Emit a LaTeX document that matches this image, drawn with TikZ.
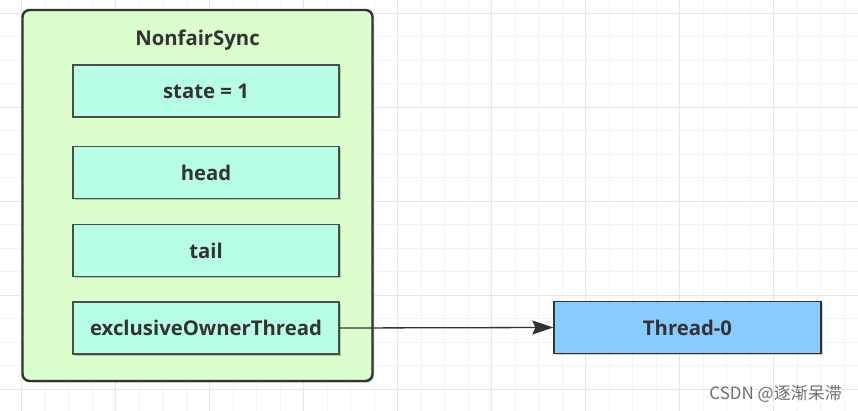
\documentclass[tikz,border=0pt]{standalone}
\usepackage{fontspec}
\setmainfont{Open Sans}
\newfontfamily\cjk{Noto Sans CJK SC}
\usetikzlibrary{arrows.meta}
\definecolor{gridminor}{RGB}{243,243,243}
\definecolor{gridmajor}{RGB}{230,230,230}
\definecolor{outerfill}{RGB}{220,253,204}
\definecolor{fieldfill}{RGB}{184,253,229}
\definecolor{threadfill}{RGB}{136,204,255}
\definecolor{ink}{RGB}{51,51,51}
\definecolor{fieldborder}{RGB}{70,80,70}
\tikzset{
  outerbox/.style={draw=ink, line width=2.4pt, fill=outerfill, rounded corners=7pt,
    minimum width=350pt, minimum height=371pt, inner sep=0pt},
  fieldbox/.style={draw=fieldborder, line width=1.3pt, fill=fieldfill,
    minimum width=266pt, minimum height=52pt, inner sep=0pt,
    font=\fontsize{20.3}{23}\selectfont\bfseries, text=ink},
  threadbox/.style={draw=ink, line width=1.3pt, fill=threadfill,
    minimum width=267pt, minimum height=52pt, inner sep=0pt,
    font=\fontsize{20.3}{23}\selectfont\bfseries, text=ink},
  titletext/.style={font=\fontsize{20.3}{23}\selectfont\bfseries, text=ink, inner sep=0pt},
  shadowed/.style={preaction={fill=black, opacity=0.2, transform canvas={xshift=1.5pt, yshift=-1.5pt}}},
  link/.style={draw=ink, line width=1.3pt, -{Stealth[length=21pt, width=14pt, inset=3pt]}}
}
\begin{document}
\begin{tikzpicture}[x=1pt, y=-1pt]
\useasboundingbox (0,0) rectangle (858,411);
\fill[white] (0,0) rectangle (858,411);
% grid
\foreach \k in {0,...,37} \draw[gridminor, line width=1pt] ({-1.8+23.5*\k},0) -- ++(0,411);
\foreach \k in {0,...,18} \draw[gridminor, line width=1pt] (0,{-10.2+23.5*\k}) -- ++(858,0);
\foreach \k in {0,...,9} \draw[gridmajor, line width=1pt] ({21.7+94*\k},0) -- ++(0,411);
\foreach \k in {0,...,4} \draw[gridmajor, line width=1pt] (0,{13.3+94*\k}) -- ++(858,0);
% outer container
\node[outerbox, shadowed] (sync) at (197.5,195.5) {};
\node[titletext, anchor=base] (title) at (197.5,45.5) {NonfairSync};
% fields
\node[fieldbox, shadowed] (state) at (206,91) {state = 1};
\node[fieldbox, shadowed] (head) at (206,172.5) {head};
\node[fieldbox, shadowed] (tail) at (206,250.5) {tail};
\node[fieldbox, shadowed] (owner) at (206,328) {exclusiveOwnerThread};
% thread
\node[threadbox, shadowed] (thread) at (687.5,327.5) {Thread-0};
\draw[link] (owner.east) -- (thread.west);
% watermark text
\node[font=\cjk\fontsize{17}{19}\selectfont, text={rgb,255:red,110;green,110;blue,110}, anchor=base east, inner sep=0pt] (csdn) at (842,399) {CSDN @逐渐呆滞};
\end{tikzpicture}
\end{document}
